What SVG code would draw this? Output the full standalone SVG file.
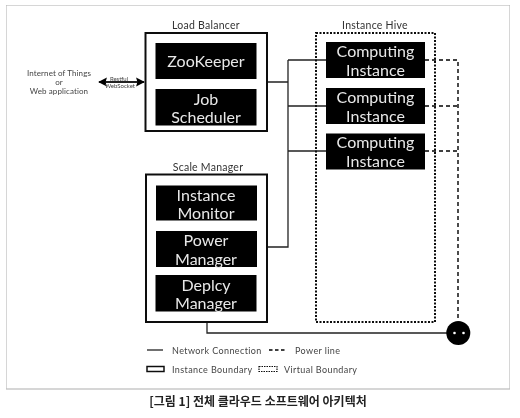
<svg xmlns="http://www.w3.org/2000/svg" width="520" height="418" viewBox="0 0 520 418">
<style>
text{font-family:Lato,"Open Sans",sans-serif;text-anchor:middle}
.b{fill:#fff;stroke:#111;stroke-width:2}
.k{fill:#000}
.w{fill:#e8e8e8;font-size:16px}
.t{fill:#333;font-size:10.500px;letter-spacing:.25px}
.l{fill:#444;font-size:9px;letter-spacing:.4px;text-anchor:start}
.c{fill:#444;font-size:8px;letter-spacing:.1px}
.s{fill:#444;font-size:6px}
.n{fill:none;stroke:#222;stroke-width:1.300}
.d{fill:none;stroke:#000;stroke-width:1.400;stroke-dasharray:4 3}
.v{fill:none;stroke:#111;stroke-width:2;stroke-dasharray:2 1.500}
</style>
<defs>
<filter id="soft" x="0" y="0" width="100%" height="100%"><feGaussianBlur stdDeviation="0.35"/></filter>
<marker id="ah" viewBox="0 0 10 10" refX="9" refY="5" markerWidth="4" markerHeight="4.500" orient="auto-start-reverse"><path d="M0 0L10 5L0 10L1.500 5Z" fill="#000"/></marker>
</defs>
<rect width="520" height="418" fill="#fff"/>
<g filter="url(#soft)">
<rect x="6" y="5" width="504" height="384" fill="#fff" stroke="#bbb" stroke-width="1.200"/>
<g id="connectors">
<path class="n" d="M267 82H288M288 60V247H267M288 60H326M288 106H326M288 151H326"/>
<path class="d" d="M425 60H458V321M425 106H458M425 151H458"/>
<path class="n" d="M207 322V333H447"/>
<path d="M99 82H144" fill="none" stroke="#222" stroke-width="2.200" marker-start="url(#ah)" marker-end="url(#ah)"/>
</g>
<g id="client">
<text class="c" x="59" y="76">Internet of Things</text>
<text class="c" x="59" y="85">or</text>
<text class="c" x="59" y="94">Web application</text>
</g>
<text class="s" x="119" y="80.500">Restful</text>
<text class="s" x="120" y="88">WebSocket</text>
<g id="load-balancer">
<text class="t" x="206" y="29">Load Balancer</text>
<rect class="b" x="145.500" y="33" width="121.500" height="98"/>
</g>
<g id="zookeeper"><rect class="k" x="155.500" y="43" width="101" height="36"/><text class="w" x="206" y="67">ZooKeeper</text></g>
<g id="job-scheduler"><rect class="k" x="155.500" y="89" width="101" height="36.500"/><text class="w" x="206" y="104.500">Job</text><text class="w" x="206" y="123">Scheduler</text></g>
<g id="scale-manager">
<text class="t" x="208" y="171">Scale Manager</text>
<rect class="b" x="146" y="174.500" width="121" height="147.500"/>
</g>
<g id="instance-monitor"><rect class="k" x="156" y="185.500" width="101" height="35"/><text class="w" x="206" y="200.500">Instance</text><text class="w" x="206" y="219">Monitor</text></g>
<g id="power-manager"><rect class="k" x="156" y="231" width="101" height="36"/><text class="w" x="206" y="246">Power</text><text class="w" x="206" y="264.500">Manager</text></g>
<g id="deploy-manager"><rect class="k" x="155.500" y="275" width="101" height="36.500"/><text class="w" x="206" y="290.500">Deplcy</text><text class="w" x="206" y="309">Manager</text></g>
<g id="instance-hive">
<text class="t" x="375" y="29">Instance Hive</text>
<rect class="v" x="316" y="33" width="119" height="289"/>
</g>
<g id="computing-1"><rect class="k" x="326" y="42" width="99" height="36"/><text class="w" x="375.500" y="56.500">Computing</text><text class="w" x="375.500" y="75.500">Instance</text></g>
<g id="computing-2"><rect class="k" x="326" y="88" width="99" height="36"/><text class="w" x="375.500" y="102.500">Computing</text><text class="w" x="375.500" y="121.500">Instance</text></g>
<g id="computing-3"><rect class="k" x="326" y="133.500" width="99" height="36"/><text class="w" x="375.500" y="148">Computing</text><text class="w" x="375.500" y="167">Instance</text></g>
<g id="power-source">
<circle cx="458.300" cy="333" r="12" fill="#000"/>
<circle cx="454.500" cy="333" r="1.300" fill="#fff"/>
<circle cx="463.500" cy="333" r="1.300" fill="#fff"/>
</g>
<g id="legend">
<path class="n" d="M147 350H163"/>
<text class="l" x="172" y="354">Network Connection</text>
<path class="d" d="M269 350H287" style="stroke-dasharray:3.500 2.500"/>
<text class="l" x="295" y="354">Power line</text>
<rect x="147" y="366.500" width="17" height="5" fill="#fff" stroke="#111" stroke-width="1.500"/>
<text class="l" x="172" y="373">Instance Boundary</text>
<rect x="259" y="366.500" width="18" height="5" fill="none" stroke="#111" stroke-width="1.200" stroke-dasharray="1.500 1"/>
<text class="l" x="284" y="373">Virtual Boundary</text>
</g>
<text x="258" y="406" style="font-family:'Noto Sans CJK KR','Noto Sans',sans-serif;font-size:12px;font-weight:700;fill:#222">[그림 1] 전체 클라우드 소프트웨어 아키텍처</text>
</g>
</svg>
